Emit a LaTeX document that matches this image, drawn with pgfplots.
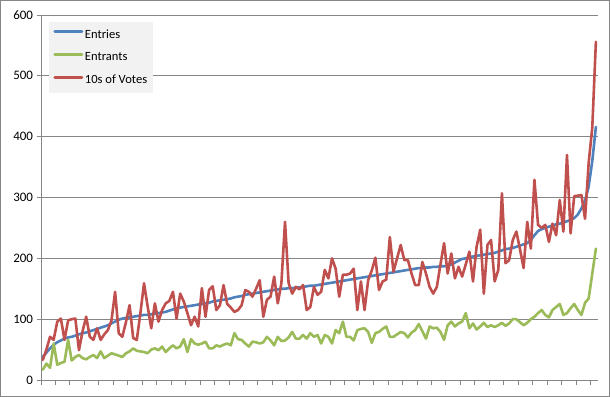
\documentclass[border=0pt]{standalone}
\usepackage{pgfplots}
\pgfplotsset{compat=1.18}
\usepackage{pgfplotstable}
\usepackage{fontspec}
\setmainfont{Carlito}
\definecolor{sBlue}{HTML}{4F81BD}
\definecolor{sGreen}{HTML}{9BBB59}
\definecolor{sRed}{HTML}{C0504D}
\definecolor{gridgray}{HTML}{868686}
\definecolor{legfill}{HTML}{F2F2F2}
\pgfplotstableread{
i e n v
0 38 17 33
1 45 27 50
2 52 20 71
3 58 60 66
4 62 25 96
5 65 28 101
6 68 30 66
7 70 66 98
8 71 32 100
9 73 38 101
10 75 41 49
11 77 36 80
12 78 34 104
13 80 38 71
14 82 41 66
15 84 36 85
16 86 47 66
17 88 36 75
18 90 40 82
19 93 44 98
20 96 42 145
21 99 40 77
22 101 38 71
23 102 44 95
24 103 47 123
25 104 52 69
26 105 48 66
27 106 47 110
28 107 46 159
29 107 44 121
30 108 50 85
31 109 52 126
32 110 49 96
33 111 55 115
34 112 46 126
35 114 52 130
36 116 57 145
37 118 52 101
38 119 55 142
39 120 67 129
40 121 46 110
41 122 67 90
42 123 60 104
43 124 58 88
44 125 60 151
45 126 63 104
46 127 52 148
47 129 52 154
48 130 57 115
49 131 55 123
50 132 58 156
51 133 60 125
52 134 57 119
53 136 77 112
54 137 67 115
55 138 66 123
56 140 60 148
57 141 55 145
58 142 63 137
59 143 62 150
60 144 60 164
61 145 62 104
62 146 71 132
63 147 65 137
64 148 57 170
65 149 71 126
66 150 64 159
67 150 65 260
68 151 70 159
69 151 79 142
70 152 68 153
71 152 68 149
72 153 74 156
73 154 68 115
74 155 77 120
75 155 71 153
76 156 74 140
77 157 60 145
78 158 74 181
79 159 71 167
80 160 60 200
81 161 82 183
82 162 77 137
83 163 96 173
84 164 71 173
85 165 71 175
86 166 65 183
87 167 82 115
88 168 84 162
89 169 85 115
90 170 79 164
91 171 61 180
92 172 77 201
93 173 79 148
94 174 84 162
95 175 88 165
96 176 71 235
97 177 71 178
98 178 75 200
99 179 79 222
100 180 77 197
101 181 70 197
102 182 78 175
103 183 82 156
104 184 92 156
105 184 80 194
106 185 68 175
107 185 88 153
108 186 85 142
109 186 86 153
110 187 79 190
111 187 66 225
112 188 90 175
113 190 96 208
114 193 88 167
115 196 93 186
116 199 96 170
117 200 110 190
118 202 85 211
119 203 93 162
120 204 83 219
121 205 88 247
122 206 94 142
123 207 87 222
124 208 90 230
125 209 87 162
126 211 90 181
127 213 94 307
128 215 89 192
129 216 93 197
130 217 100 230
131 219 100 244
132 221 95 215
133 223 90 184
134 225 94 260
135 230 100 216
136 238 104 329
137 245 110 255
138 248 115 250
139 250 107 255
140 252 103 227
141 254 115 257
142 256 120 238
143 257 125 296
144 259 107 244
145 261 110 370
146 263 118 241
147 266 125 302
148 272 115 303
149 282 107 304
150 295 127 265
151 318 134 357
152 360 175 415
153 416 216 556
}\data
\begin{document}
\begin{tikzpicture}
\useasboundingbox (0,0) rectangle (610bp,397bp);
\draw[color=gridgray, line width=1bp] (0.5bp,0.5bp) rectangle (609.5bp,396.5bp);
\begin{axis}[
  at={(41bp,17bp)}, anchor=south west,
  scale only axis, width=556.7bp, height=365bp,
  xmin=-0.5, xmax=153.5, ymin=0, ymax=600,
  axis lines*=left,
  axis line style={draw=gridgray, line width=0.9bp},
  tick style={draw=gridgray, line width=0.9bp},
  tick align=outside, major tick length=4.5bp,
  xtick={-0.5,3.5,...,151.5}, xticklabel=\empty,
  ytick={0,100,...,600},
  ymajorgrids, major grid style={draw=gridgray, line width=0.9bp},
  /pgf/number format/assume math mode=true,
  yticklabel style={font=\fontsize{13}{15}\selectfont, text=black},
  legend style={at={(0.0149,0.9816)}, anchor=north west, draw=none, fill=legfill,
    font=\fontsize{12.6}{15}\selectfont, inner xsep=4bp, inner ysep=6.5bp, row sep=9.8bp,
    nodes={inner sep=1.5bp}},
  legend cell align=left,
  legend image code/.code={\draw[#1, line width=3bp] (0bp,3bp) -- (27bp,3bp);},
  every axis plot/.append style={line width=2.6bp, line join=round, line cap=round},
]
\addplot[sBlue, mark=none] table[x=i, y=e] {\data};
\addlegendentry{Entries}
\addplot[sGreen, mark=none] table[x=i, y=n] {\data};
\addlegendentry{Entrants}
\addplot[sRed, mark=none] table[x=i, y=v] {\data};
\addlegendentry{10s of Votes}
\end{axis}
\end{tikzpicture}
\end{document}
